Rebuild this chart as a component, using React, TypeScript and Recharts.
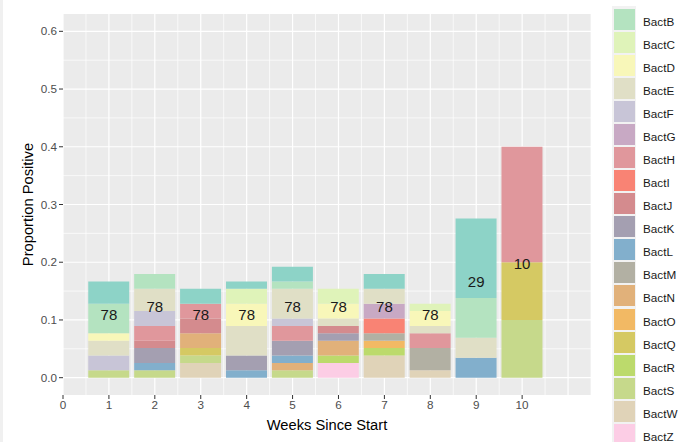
import React from "react";
import {
  Bar,
  CartesianGrid,
  ComposedChart,
  Label,
  Scatter,
  XAxis,
  YAxis,
} from "recharts";

// weeks and number of samples tested each week
const weeks = [1, 2, 3, 4, 5, 6, 7, 8, 9, 10];
const sampleSizes = [78, 78, 78, 78, 78, 78, 78, 78, 29, 10];
const labelHeights = [0.11, 0.123, 0.11, 0.11, 0.124, 0.124, 0.124, 0.11, 0.166, 0.198];

// positive samples per week (divided by sample size for the proportion)
const bactA = [3, 0, 2, 1, 2, 0, 2, 0, 4, 0];
const bactB = [4, 2, 0, 0, 1, 0, 0, 0, 2, 0];
const bactC = [0, 0, 0, 2, 0, 2, 0, 1, 0, 0];
const bactD = [1, 0, 0, 3, 0, 2, 0, 2, 0, 0];
const bactE = [2, 3, 0, 4, 4, 1, 2, 1, 1, 0];
const bactF = [2, 2, 0, 0, 1, 0, 0, 0, 0, 0];
const bactG = [0, 0, 0, 0, 0, 0, 2, 0, 0, 0];
const bactH = [0, 2, 2, 0, 2, 0, 0, 2, 0, 2];
const bactI = [0, 0, 0, 0, 0, 0, 2, 0, 0, 0];
const bactJ = [0, 1, 2, 0, 0, 1, 0, 0, 0, 0];
const bactK = [0, 2, 0, 2, 2, 1, 0, 0, 0, 0];
const bactL = [0, 1, 0, 1, 1, 0, 0, 0, 1, 0];
const bactM = [0, 0, 0, 0, 0, 0, 1, 3, 0, 0];
const bactN = [0, 0, 2, 0, 1, 2, 0, 0, 0, 0];
const bactO = [0, 0, 0, 0, 0, 0, 1, 0, 0, 0];
const bactQ = [0, 0, 1, 0, 0, 0, 0, 0, 0, 1];
const bactR = [0, 0, 0, 0, 0, 1, 1, 0, 0, 0];
const bactS = [1, 1, 1, 0, 1, 0, 0, 0, 0, 1];
const bactW = [0, 0, 2, 0, 0, 0, 3, 1, 0, 0];
const bactZ = [0, 0, 0, 0, 0, 2, 0, 0, 0, 0];

const seriesNames = [
  "BactA", "BactB", "BactC", "BactD", "BactE", "BactF", "BactG", "BactH", "BactI", "BactJ",
  "BactK", "BactL", "BactM", "BactN", "BactO", "BactQ", "BactR", "BactS", "BactW", "BactZ",
];
const seriesCounts = [
  bactA, bactB, bactC, bactD, bactE, bactF, bactG, bactH, bactI, bactJ,
  bactK, bactL, bactM, bactN, bactO, bactQ, bactR, bactS, bactW, bactZ,
];
const seriesColors = [
  "#8DD3C7", "#B4E3C0", "#DFF3B9", "#F8F7B9", "#E0DFC6", "#C8C5D7", "#C8A9C4", "#E0979C",
  "#F98374", "#D48B8E", "#A49FB1", "#82AFCC", "#B2B0A3", "#E1B17A", "#F2B964", "#D5C963",
  "#BCDA6C", "#C6D98B", "#E0D3B8", "#FCCDE5",
];

const xTicks = [0, 1, 2, 3, 4, 5, 6, 7, 8, 9, 10];
const xMajor = [0, 1, 2, 3, 4, 5, 6, 7, 8, 9, 10, 11];
const xMinor = [0.5, 1.5, 2.5, 3.5, 4.5, 5.5, 6.5, 7.5, 8.5, 9.5, 10.5, 11.5];
const yTicks = [0, 0.1, 0.2, 0.3, 0.4, 0.5, 0.6];
const yMinor = [0.05, 0.15, 0.25, 0.35, 0.45, 0.55];

const rows = weeks.map((week, i) => {
  const row: Record<string, number> = {
    week,
    n: sampleSizes[i],
    labelY: labelHeights[i],
  };
  seriesNames.forEach((name, s) => {
    row[name] = seriesCounts[s][i] / sampleSizes[i];
  });
  return row;
});

// BactA sits above the visible part of the legend, as in the original
const legendItems = seriesNames.slice(1);

export default function App() {
  const tickStyle = { fill: "#4D4D4D", fontSize: 11.7 };

  return (
    <div
      style={{
        position: "relative",
        width: 690,
        height: 442,
        overflow: "hidden",
        background: "#fff",
        fontFamily: "'Liberation Sans', Arial, sans-serif",
      }}
    >
      <style>{"body{margin:0}"}</style>
      <div
        style={{ position: "absolute", left: 0, top: 0, width: 3, height: 442, background: "#F0F0F0" }}
      />
      <ComposedChart
        width={591}
        height={442}
        data={rows}
        margin={{ top: 14, right: 0, bottom: 0, left: 0 }}
        barCategoryGap="5%"
      >
        <CartesianGrid
          fill="#EBEBEB"
          stroke="#FFFFFF"
          strokeWidth={0.7}
          horizontalValues={yMinor}
          verticalValues={xMinor}
        />
        <CartesianGrid
          stroke="#FFFFFF"
          strokeWidth={1.2}
          horizontalValues={yTicks}
          verticalValues={xMajor}
        />
        <XAxis
          type="number"
          dataKey="week"
          domain={[0, 11.5]}
          ticks={xTicks}
          interval={0}
          allowDataOverflow
          axisLine={false}
          tickSize={4}
          tickLine={{ stroke: "#333333" }}
          tick={tickStyle}
          height={47}
        >
          <Label
            content={({ viewBox }: any) => (
              <text
                x={viewBox.x + viewBox.width / 2}
                y={425}
                textAnchor="middle"
                dominantBaseline="central"
                fontSize={14.7}
                fill="#000"
              >
                Weeks Since Start
              </text>
            )}
          />
        </XAxis>
        <YAxis
          type="number"
          domain={[-0.03, 0.63]}
          ticks={yTicks}
          interval={0}
          allowDataOverflow
          tickFormatter={(v: number) => v.toFixed(1)}
          axisLine={false}
          tickSize={4}
          tickLine={{ stroke: "#333333" }}
          tick={tickStyle}
          width={63}
        >
          <Label
            content={({ viewBox }: any) => {
              const cx = 28;
              const cy = viewBox.y + viewBox.height / 2;
              return (
                <text
                  x={cx}
                  y={cy}
                  transform={`rotate(-90 ${cx} ${cy})`}
                  textAnchor="middle"
                  dominantBaseline="central"
                  fontSize={14.7}
                  fill="#000"
                >
                  Proportion Positive
                </text>
              );
            }}
          />
        </YAxis>
        {seriesNames
          .map((name, s) => ({ name, color: seriesColors[s] }))
          .reverse()
          .map((item) => (
            <Bar
              key={item.name}
              dataKey={item.name}
              stackId="week"
              fill={item.color}
              isAnimationActive={false}
            />
          ))}
        <Scatter
          dataKey="labelY"
          isAnimationActive={false}
          shape={(p: any) => (
            <text
              x={p.cx}
              y={p.cy}
              textAnchor="middle"
              dominantBaseline="central"
              fontSize={15}
              fill="#1A1A1A"
            >
              {p.payload.n}
            </text>
          )}
        />
      </ComposedChart>
      <div
        style={{
          position: "absolute",
          left: 612,
          top: 6,
          width: 24,
          height: 436,
          background: "#F2F2F2",
        }}
      />
      {legendItems.map((name, i) => (
        <div
          key={name}
          style={{
            position: "absolute",
            left: 614,
            top: 9 + i * 23.04,
            height: 21,
            display: "flex",
            alignItems: "center",
          }}
        >
          <div
            style={{
              width: 21,
              height: 21,
              background: seriesColors[seriesNames.indexOf(name)],
            }}
          />
          <span
            style={{
              marginLeft: 8,
              fontSize: 11.7,
              color: "#1A1A1A",
              position: "relative",
              top: 2,
            }}
          >
            {name}
          </span>
        </div>
      ))}
    </div>
  );
}
